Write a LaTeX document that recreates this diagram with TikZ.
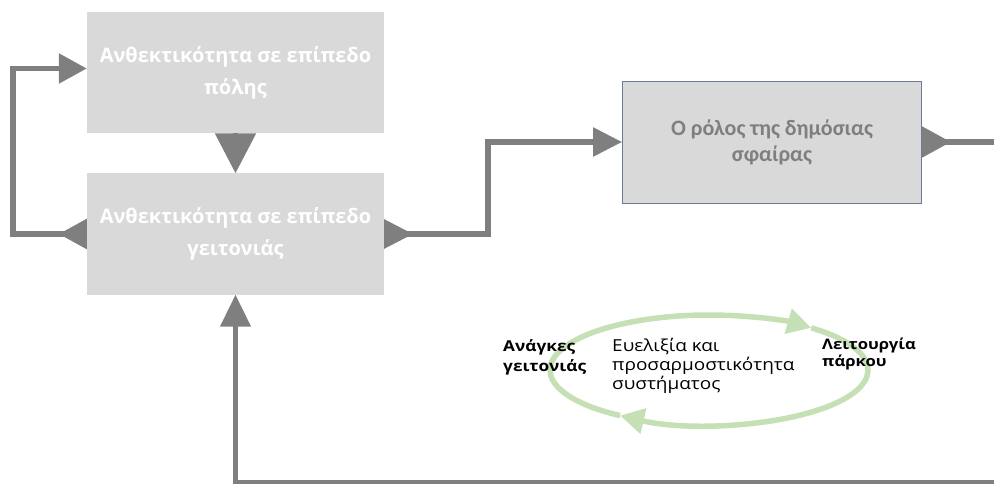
\documentclass[tikz,border=0pt]{standalone}
\usepackage{fontspec}
\setmainfont{Open Sans}
\newfontfamily\calfont{Carlito}
\newfontfamily\wideopen[FakeStretch=1.15]{Open Sans}
\usetikzlibrary{arrows.meta}
\definecolor{boxgray}{HTML}{D9D9D9}
\definecolor{linkgray}{HTML}{7F7F7F}
\definecolor{rimblue}{HTML}{6B7B96}
\definecolor{ringgreen}{HTML}{C5E0B4}
\tikzset{
  box/.style={fill=boxgray, minimum width=297pt, minimum height=121pt, inner sep=0pt, align=center,
    text=white, font=\fontsize{20}{32}\selectfont\bfseries},
  rolebox/.style={box, draw=rimblue, line width=0.8pt, minimum width=299pt, minimum height=122pt,
    text=linkgray, font=\calfont\fontsize{22}{26}\selectfont\bfseries},
  link/.style={draw=linkgray, line width=5.5pt},
  ring/.style={draw=ringgreen, line width=5.5pt, -{Triangle[length=24pt,width=25pt]}},
  lbl/.style={anchor=west, align=left, inner sep=0pt}
}
\begin{document}
\begin{tikzpicture}[x=1pt,y=1pt]
  \useasboundingbox (0,0) rectangle (994,-484);

  \node[box] (city) at (235.5,-72.5) {Ανθεκτικότητα σε επίπεδο\\πόλης};
  \node[box] (nbr) at (235.5,-234) {Ανθεκτικότητα σε επίπεδο\\γειτονιάς};
  \node[rolebox] (role) at (772,-142) {Ο ρόλος της δημόσιας\\σφαίρας};

  \coordinate (edgeR) at (994,-142);
  \coordinate (edgeB) at (994,-482);
  \coordinate (ringc) at (709,-370);

  \draw[link,-{Triangle[length=40pt,width=40pt]}] (city.south) -- (nbr.north);
  \draw[link,{Triangle[reversed,length=28pt,width=29pt]}-{Triangle[length=28pt,width=29pt]}]
    (nbr.west) -- ++(-74,0) |- ([yshift=4pt]city.west);
  \draw[link,{Triangle[reversed,length=29pt,width=28pt]}-{Triangle[length=29pt,width=28pt]}]
    (nbr.east) -- ++(104,0) |- (role.west);
  \draw[link,{Triangle[reversed,length=29pt,width=30pt]}-] (role.east) -- (edgeR);
  \draw[link,line width=4.5pt,-{Triangle[length=32pt,width=30pt]}] (edgeB) -| (nbr.south);

  \draw[ring] (ringc) ++(236:159 and 55) arc[start angle=236,end angle=50,x radius=159,y radius=55];
  \draw[ring] (ringc) ++(50:159 and 55) arc[start angle=50,end angle=-124,x radius=159,y radius=55];

  \node[lbl,font=\wideopen\fontsize{15}{20}\selectfont\bfseries] (needs) at (503,-357) {Ανάγκες\\γειτονιάς};
  \node[lbl,font=\wideopen\fontsize{16.5}{19}\selectfont] (flex) at (612,-366) {Ευελιξία και\\προσαρμοστικότητα\\συστήματος};
  \node[lbl,font=\wideopen\fontsize{14.5}{17}\selectfont\bfseries] (park) at (822,-353.5) {Λειτουργία\\πάρκου};
\end{tikzpicture}
\end{document}
